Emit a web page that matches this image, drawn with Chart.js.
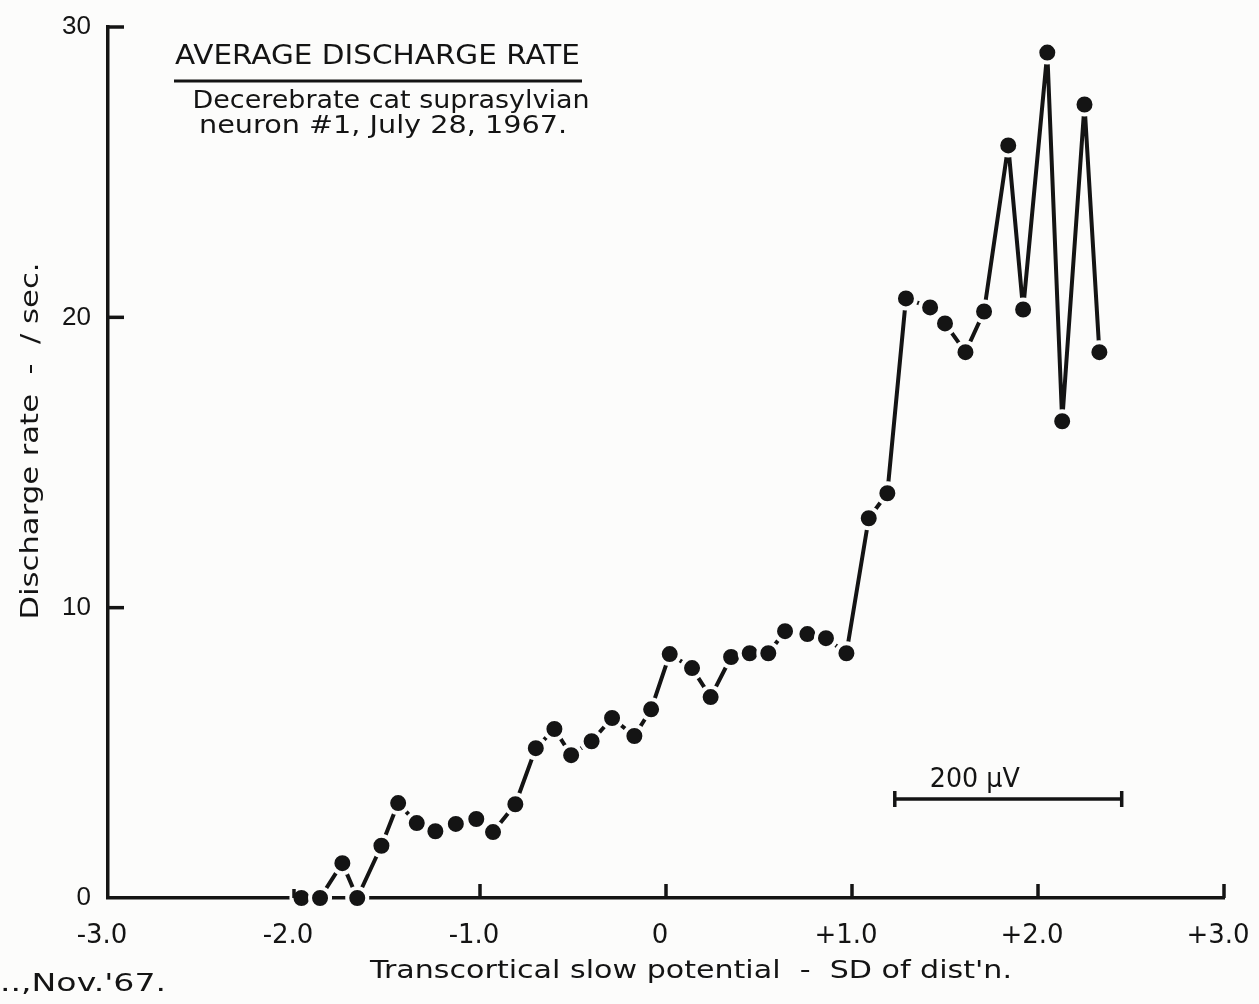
<!DOCTYPE html>
<html>
<head>
<meta charset="utf-8">
<title>Average discharge rate</title>
<script src="https://cdn.jsdelivr.net/npm/chart.js@4.4.1/dist/chart.umd.min.js"></script>
<style>
  html, body { margin: 0; padding: 0; background: #fcfcfb; }
</style>
</head>
<body>
<canvas id="rate" width="1259" height="1004"></canvas>
<script>
"use strict";

// transcortical slow potential, in SD of the distribution
var potential = [-1.96, -1.86, -1.74, -1.66, -1.53, -1.44, -1.34, -1.24, -1.13, -1.02,
                 -0.93, -0.81, -0.70, -0.60, -0.51, -0.40, -0.29, -0.17, -0.08, 0.02,
                 0.14, 0.24, 0.35, 0.45, 0.55, 0.64, 0.76, 0.86, 0.97, 1.09,
                 1.19, 1.29, 1.42, 1.50, 1.61, 1.71, 1.84, 1.92, 2.05, 2.13,
                 2.25, 2.33];
// average discharge rate, spikes / sec
var rate = [0, 0, 1.2, 0, 1.8, 3.27, 2.58, 2.3, 2.55, 2.72,
            2.27, 3.23, 5.16, 5.82, 4.92, 5.4, 6.2, 5.58, 6.5, 8.4,
            7.92, 6.92, 8.3, 8.43, 8.43, 9.19, 9.09, 8.95, 8.43, 13.08,
            13.94, 20.65, 20.34, 19.79, 18.8, 20.2, 25.92, 20.27, 29.12, 16.42,
            27.33, 18.8];

var xTicks = [-3, -2, -1, 0, 1, 2, 3];
var yTicks = [0, 10, 20, 30];

// 200 uV calibration bar, in SD units
var barX = [1.23, 2.45];
var barY = [3.41, 3.41];
var barLabel = "200 \u00b5V";

var titleText = "AVERAGE DISCHARGE RATE";
var noteLines = ["Decerebrate cat suprasylvian", "neuron #1, July 28, 1967."];
var xTitle = "Transcortical slow potential  -  SD of dist'n.";
var yTitle = "Discharge rate  -  / sec.";
var footNote = "..,Nov.'67.";

var paper = "#fcfcfb";
var ink = "#141414";
var face = "'DejaVu Sans', 'Open Sans', sans-serif";

Chart.defaults.font.family = face;
Chart.defaults.color = ink;

function fmtX(v) {
    if (v === 0) return "0";
    return (v > 0 ? "+" : "") + v.toFixed(1);
}

// typed lettering is wide: stretch the line to the given width
function wideText(ctx, text, x, y, width, align) {
    var m = ctx.measureText(text).width;
    ctx.save();
    ctx.textAlign = "left";
    ctx.translate(align === "center" ? x - width / 2 : x, y);
    ctx.scale(width / m, 1);
    ctx.fillText(text, 0, 0);
    ctx.restore();
}

// tick marks point into the plot, like the hand-drawn axes
var inwardTicks = {
    id: "inwardTicks",
    afterDatasetsDraw(chart) {
        var ctx = chart.ctx, a = chart.chartArea;
        var sx = chart.scales.x, sy = chart.scales.y;
        ctx.save();
        ctx.strokeStyle = ink;
        ctx.lineWidth = 3.5;
        xTicks.forEach(function(v) {
            if (v === xTicks[0]) return;
            var px = sx.getPixelForValue(v);
            ctx.beginPath();
            ctx.moveTo(px, a.bottom);
            ctx.lineTo(px, a.bottom - (v === -2 ? 9 : 14));
            ctx.stroke();
        });
        yTicks.forEach(function(v) {
            if (v === yTicks[0]) return;
            var py = sy.getPixelForValue(v);
            ctx.beginPath();
            ctx.moveTo(a.left, py);
            ctx.lineTo(a.left + 16, py);
            ctx.stroke();
        });
        ctx.restore();
    }
};

var paperText = {
    id: "paperText",
    beforeDraw(chart) {
        var ctx = chart.ctx;
        ctx.save();
        ctx.fillStyle = paper;
        ctx.fillRect(0, 0, chart.width, chart.height);
        ctx.restore();
    },
    afterDraw(chart) {
        var ctx = chart.ctx;
        var sx = chart.scales.x, sy = chart.scales.y;
        ctx.save();
        ctx.fillStyle = ink;
        ctx.strokeStyle = ink;
        ctx.textBaseline = "alphabetic";

        // heading, underlined
        ctx.font = "27px " + face;
        wideText(ctx, titleText, 175, 64, 405, "left");
        ctx.lineWidth = 3;
        ctx.beginPath();
        ctx.moveTo(174, 81);
        ctx.lineTo(582, 81);
        ctx.stroke();

        ctx.font = "24px " + face;
        wideText(ctx, noteLines[0], 391, 108, 397, "center");
        wideText(ctx, noteLines[1], 383, 133, 368, "center");

        // axis titles
        ctx.font = "25px " + face;
        wideText(ctx, xTitle, 691, 978, 642, "center");
        ctx.save();
        ctx.translate(38, 441);
        ctx.rotate(-Math.PI / 2);
        ctx.font = "24px " + face;
        wideText(ctx, yTitle, 0, 0, 357, "center");
        ctx.restore();

        ctx.font = "25px " + face;
        wideText(ctx, footNote, 0, 991, 166, "left");

        // calibration bar label
        ctx.font = "26px " + face;
        wideText(ctx, barLabel, sx.getPixelForValue(barX[0]) + 80,
                 sy.getPixelForValue(barY[0]) - 12, 90, "center");
        ctx.restore();
    }
};

var points = potential.map(function(p, i) { return {x: p, y: rate[i]}; });
var bar = barX.map(function(p, i) { return {x: p, y: barY[i]}; });

new Chart(document.getElementById("rate"), {
    type: "line",
    data: {
        datasets: [{
            label: "Discharge rate",
            data: points,
            borderColor: ink,
            borderWidth: 4,
            borderJoinStyle: "round",
            tension: 0,
            pointRadius: 10,
            pointBorderWidth: 4,
            pointBackgroundColor: ink,
            pointBorderColor: paper,
            clip: false
        }, {
            label: barLabel,
            data: bar,
            borderColor: ink,
            borderWidth: 3.5,
            pointStyle: "line",
            rotation: 90,
            pointRadius: 8,
            pointBorderWidth: 3.5,
            pointBorderColor: ink,
            clip: false
        }]
    },
    options: {
        responsive: false,
        animation: false,
        events: [],
        layout: { padding: { top: 27, right: 35, left: 0, bottom: 0 } },
        plugins: {
            legend: { display: false },
            tooltip: { enabled: false }
        },
        scales: {
            x: {
                type: "linear",
                min: -3,
                max: 3,
                z: 1,
                afterBuildTicks: function(scale) {
                    scale.ticks = xTicks.map(function(v) { return {value: v}; });
                },
                afterFit: function(scale) {
                    scale.height = 106;
                    scale.paddingLeft = 0;
                    scale.paddingRight = 0;
                },
                grid: { display: false },
                border: { display: true, color: ink, width: 3.5 },
                ticks: {
                    padding: 15,
                    labelOffset: -6,
                    font: { size: 26 },
                    color: ink,
                    maxRotation: 0,
                    callback: fmtX
                }
            },
            y: {
                type: "linear",
                min: 0,
                max: 30,
                z: 1,
                afterBuildTicks: function(scale) {
                    scale.ticks = yTicks.map(function(v) { return {value: v}; });
                },
                afterFit: function(scale) {
                    scale.width = 108;
                    scale.paddingTop = 0;
                    scale.paddingBottom = 0;
                },
                grid: { display: false },
                border: { display: true, color: ink, width: 3.5 },
                ticks: {
                    padding: 9,
                    font: { family: "'Liberation Sans', Arial, sans-serif", size: 26 },
                    color: ink
                }
            }
        }
    },
    plugins: [inwardTicks, paperText]
});
</script>
</body>
</html>
